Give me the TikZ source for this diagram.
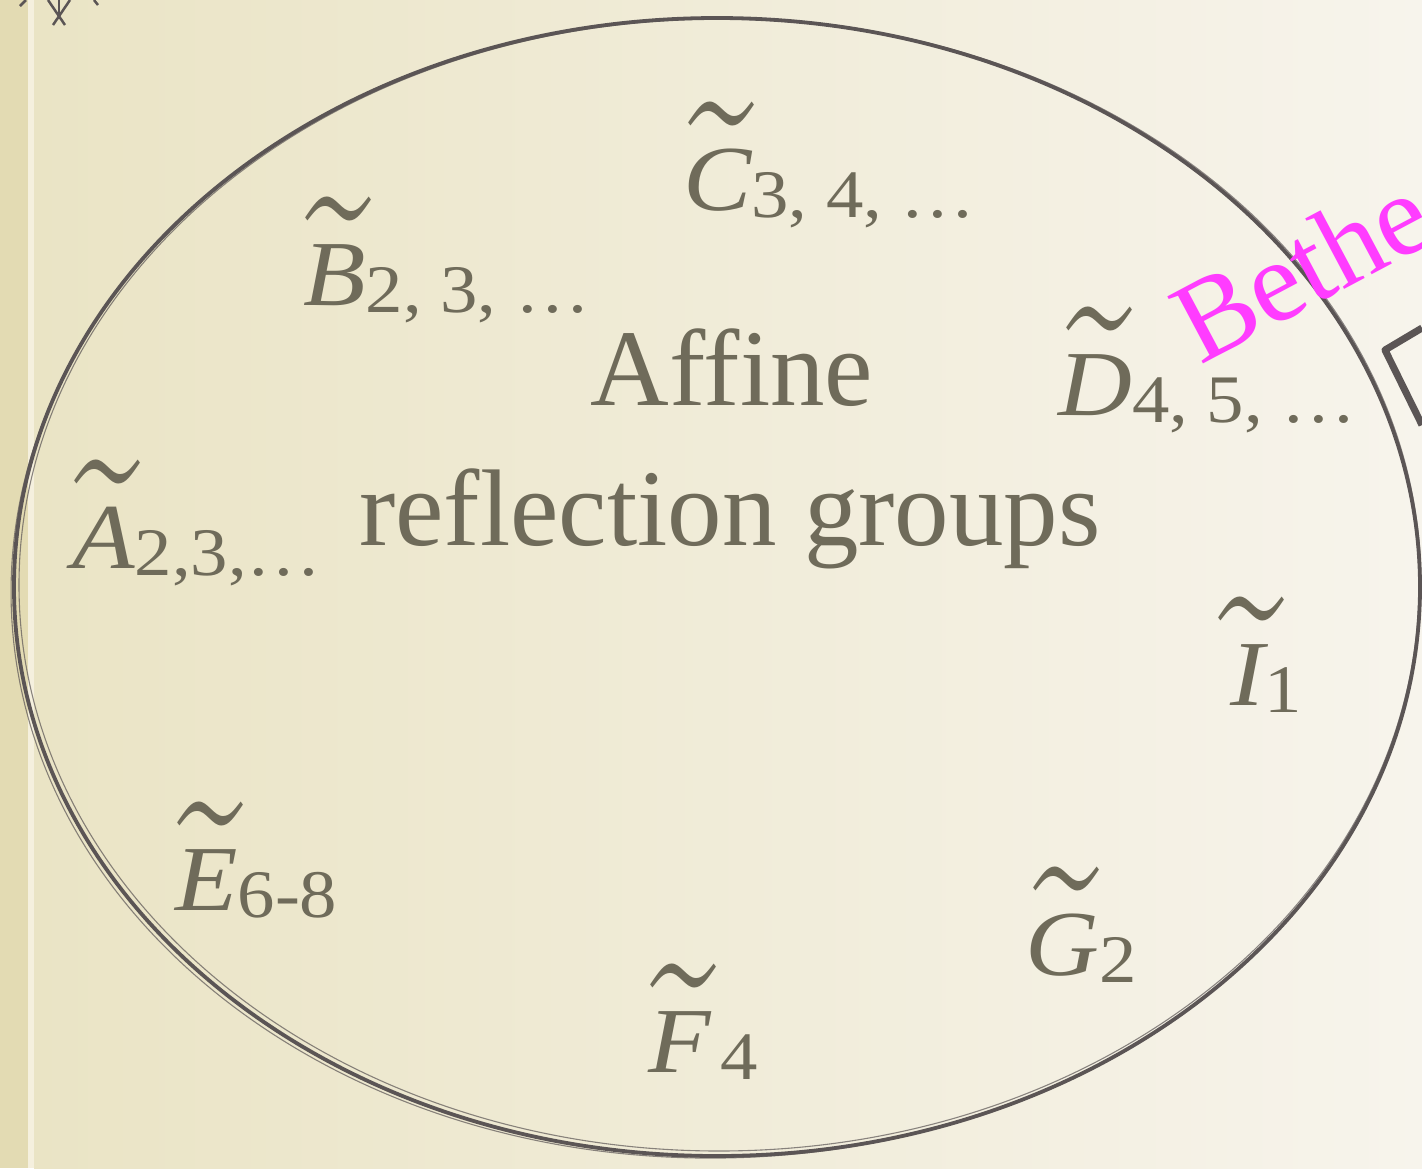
\documentclass[tikz,border=0pt]{standalone}
\usepackage{fontspec}
\setmainfont{Liberation Serif}
\newfontfamily\tildefont{Latin Modern Roman}
\definecolor{txt}{HTML}{6F6B5A}
\definecolor{ink}{HTML}{5B5555}
\definecolor{strip}{HTML}{E3DBB3}
\definecolor{stripline}{HTML}{F5F0DE}
\definecolor{bgl}{HTML}{EAE4C5}
\definecolor{bgr}{HTML}{F7F4EC}
\definecolor{bethe}{HTML}{FF3CFF}
\newcommand\subfont{\fontsize{68}{68}\selectfont}
\newsavebox\lettbox
\newcommand\grp[2]{\scalebox{1.1}[1]{\sbox\lettbox{\itshape #1}%
  \makebox[0pt][l]{\makebox[\wd\lettbox][c]{\hspace*{8pt}\raisebox{-72pt}{\scalebox{2.05}[3.0]{\tildefont ˜}}}}%
  \usebox\lettbox\raisebox{-7pt}{\subfont #2}}}
\tikzset{
  grplabel/.style={anchor=base west, inner sep=0pt, text=txt, font=\fontsize{93}{93}\selectfont},
  titlestyle/.style={anchor=base, inner sep=0pt, text=txt, font=\fontsize{109}{109}\selectfont},
  sketch/.style={draw=ink, line width=3.8pt},
  sketchthin/.style={draw=ink, line width=1.1pt, opacity=0.7},
  ornament/.style={draw=ink, line width=2.5pt}
}
\begin{document}
\begin{tikzpicture}[x=1pt,y=-1pt]
\useasboundingbox (0,0) rectangle (1422,1168);
% background
\shade[left color=bgl, right color=bgr] (34,0) rectangle (1422,1168);
\fill[strip] (0,0) rectangle (28,1168);
\fill[stripline] (28,0) rectangle (34,1168);
% ornament at top left
\draw[ornament] (20,6) -- (26,0);
\draw[ornament] (48,0) -- (65,25);
\draw[ornament] (70,0) -- (53,25);
\draw[ornament] (59,0) -- (59,16);
\draw[ornament] (98,5) -- (94,0);
% ellipse
\begin{scope}
\clip (0,0) rectangle (1422,1168);
\draw[sketch] (717,587) ellipse [x radius=703, y radius=569];
\draw[sketchthin] (719,585) ellipse [x radius=700, y radius=566];
\draw[sketchthin, rotate around={1:(717,587)}] (716,588) ellipse [x radius=705, y radius=570];
% bracket at right
\draw[draw=ink, line width=7pt, line join=round] (1422,328) -- (1385,350) -- (1422,425);
\end{scope}
% title
\node[titlestyle] (title1) at (732,405) {Affine};
\node[titlestyle] (title2) at (730,545) {reflection groups};
% group labels
\node[grplabel] (C) at (683,210) {\grp{C}{3, 4, …}};
\node[grplabel] (B) at (303,305) {\grp{B}{2, 3, …}};
\node[grplabel] (D) at (1058,415) {\grp{D}{4, 5, …}};
\node[grplabel] (A) at (72,568) {\grp{A}{2,3,…}};
\node[grplabel] (I) at (1230,705) {\grp{I}{1}};
\node[grplabel] (E) at (175,910) {\grp{E}{6-8}};
\node[grplabel] (F) at (648,1072) {\grp{F}{\hspace{9pt}4}};
\node[grplabel] (G) at (1025,975) {\grp{G}{2}};
% Bethe
\begin{scope}
\clip (0,0) rectangle (1422,1168);
\node[anchor=base west, inner sep=0pt, rotate=28, text=bethe, font=\fontsize{116}{116}\selectfont] (bethe) at (1200,366) {Bethe};
\end{scope}
\end{tikzpicture}
\end{document}
